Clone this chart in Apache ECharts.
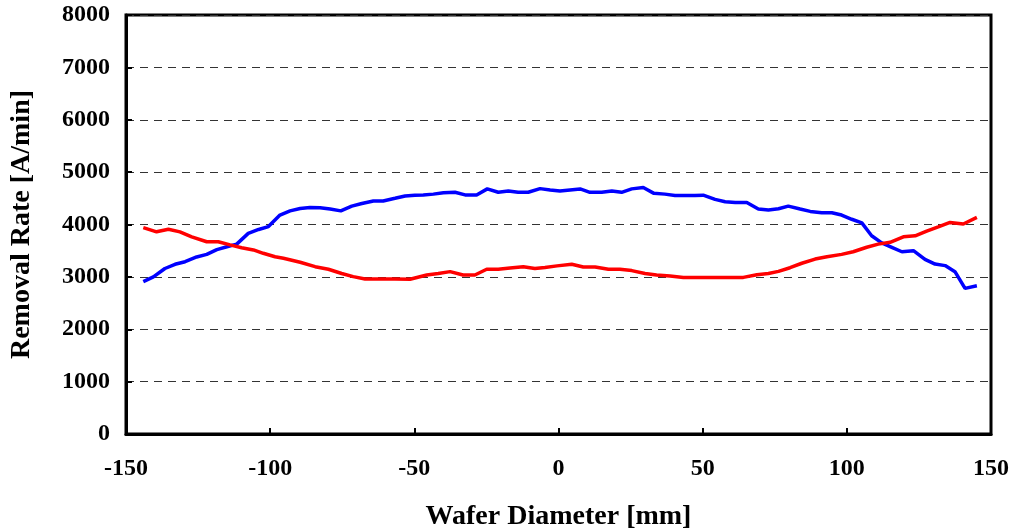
<!DOCTYPE html>
<html>
<head>
<meta charset="utf-8">
<script src="https://cdn.jsdelivr.net/npm/echarts@6/dist/echarts.min.js"></script>
<style>
  html, body { margin: 0; padding: 0; background: #fff; }
  #chart { width: 1012px; height: 530px; }
</style>
</head>
<body>
<div id="chart"></div>
<script>
// blue profile
const blueX = [-144, -140.5, -136.5, -133, -129.5, -125.5, -122, -118.5, -115, -111.6, -107.6, -104, -100.6, -96.6, -93.1, -89.6, -86.2, -82.7, -79.2, -75.5, -71.7, -68.2, -64.2, -60.8, -56.7, -53.2, -49.8, -46.9, -43.4, -39.9, -35.9, -32.4, -28.4, -24.7, -20.9, -17.4, -14, -10.5, -6.4, -2.9, 0.5, 4, 7.5, 10.9, 15, 18.5, 21.9, 25.4, 29.4, 33.1, 36.9, 40.4, 43.9, 47.3, 50.2, 54.3, 57.8, 61.3, 65.3, 69.3, 72.8, 76.3, 79.7, 83.8, 87.3, 91.3, 94.8, 98.2, 101.7, 105.2, 108.6, 112.1, 115.6, 119.1, 123.1, 127.1, 130.6, 134.1, 137.5, 141, 145.1];
const blueY = [2910, 3000, 3160, 3240, 3290, 3380, 3430, 3520, 3575, 3625, 3830, 3905, 3960, 4180, 4260, 4305, 4325, 4320, 4295, 4260, 4350, 4400, 4450, 4450, 4500, 4545, 4560, 4565, 4580, 4605, 4615, 4565, 4565, 4680, 4615, 4640, 4615, 4615, 4685, 4660, 4640, 4660, 4680, 4615, 4615, 4640, 4615, 4680, 4705, 4595, 4580, 4555, 4555, 4555, 4560, 4480, 4435, 4420, 4420, 4295, 4275, 4300, 4350, 4295, 4250, 4225, 4225, 4180, 4100, 4030, 3785, 3650, 3565, 3480, 3500, 3335, 3245, 3215, 3100, 2780, 2830];

// red profile
const redX = [-144, -139.4, -135.3, -131.3, -127.2, -122, -118, -113.9, -109.9, -105.8, -102.4, -98.3, -95.4, -89.6, -84.4, -79.8, -75.2, -71.2, -67.1, -61.9, -56.7, -51.5, -45.7, -41.7, -37.6, -33.1, -29, -24.9, -20.9, -16.8, -12.2, -8.2, -4.7, -0.5, 4.6, 8.6, 12.7, 17.3, 21.3, 25.4, 30, 34, 38.7, 43.3, 64.1, 68.8, 72.8, 76.3, 80.3, 84.4, 89, 93.1, 98.2, 102.2, 106.9, 110.9, 115, 119.6, 123.7, 127.7, 131.7, 135.8, 140.4, 145.1];
const redY = [3940, 3860, 3910, 3860, 3765, 3670, 3670, 3610, 3555, 3515, 3450, 3385, 3355, 3280, 3195, 3145, 3065, 3005, 2960, 2960, 2960, 2955, 3035, 3065, 3100, 3035, 3035, 3145, 3145, 3170, 3195, 3160, 3180, 3210, 3240, 3190, 3190, 3145, 3145, 3120, 3065, 3035, 3015, 2990, 2990, 3040, 3065, 3105, 3175, 3260, 3340, 3385, 3430, 3480, 3565, 3625, 3660, 3765, 3785, 3875, 3955, 4040, 4010, 4135];

const xMin = -150, xMax = 150, xStep = 50;
const yMin = 0, yMax = 8000, yStep = 1000;

const fontFamily = '"Liberation Serif", "Times New Roman", serif';
const zip = (xs, ys) => xs.map((x, i) => [x, ys[i]]);

const chart = echarts.init(document.getElementById('chart'), null, { renderer: 'canvas' });
chart.setOption({
    animation: false,
    textStyle: { fontFamily: fontFamily },
    grid: {
        left: 126, right: 21, top: 15, bottom: 96,
        outerBoundsMode: 'none',
        show: true, borderColor: '#000', borderWidth: 3,
    },
    xAxis: {
        type: 'value',
        min: xMin, max: xMax, interval: xStep,
        name: 'Wafer Diameter [mm]',
        nameLocation: 'middle',
        nameGap: 69,
        nameTextStyle: { color: '#000', fontSize: 28, fontWeight: 'bold', fontFamily: fontFamily },
        axisLine: { onZero: false, lineStyle: { color: '#000', width: 3 } },
        axisTick: { inside: true, length: 6, lineStyle: { color: '#000', width: 2 } },
        axisLabel: { color: '#000', fontSize: 24, fontWeight: 'bold', margin: 23, fontFamily: fontFamily },
        splitLine: { show: false },
    },
    yAxis: {
        type: 'value',
        min: yMin, max: yMax, interval: yStep,
        name: 'Removal Rate [A/min]',
        nameLocation: 'middle',
        nameGap: 90,
        nameTextStyle: { color: '#000', fontSize: 28, fontWeight: 'bold', fontFamily: fontFamily },
        axisLine: { onZero: false, lineStyle: { color: '#000', width: 3 } },
        axisTick: { inside: true, length: 6, lineStyle: { color: '#000', width: 2 } },
        axisLabel: { color: '#000', fontSize: 24, fontWeight: 'bold', margin: 16, fontFamily: fontFamily, formatter: v => String(v) },
        splitLine: { show: true, lineStyle: { color: '#333', width: 1, type: [8, 6] } },
    },
    series: [
        {
            type: 'line',
            data: zip(blueX, blueY),
            symbol: 'none',
            lineStyle: { color: '#0000ff', width: 3.5 },
        },
        {
            type: 'line',
            data: zip(redX, redY),
            symbol: 'none',
            lineStyle: { color: '#ff0000', width: 3.5 },
        },
    ],
});
</script>
</body>
</html>
